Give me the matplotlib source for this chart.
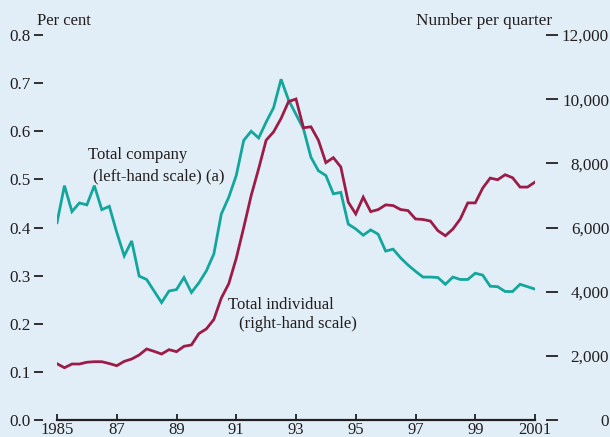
import numpy as np
import matplotlib
matplotlib.use("Agg")
import matplotlib.pyplot as plt

plt.rcParams['font.family'] = ['Liberation Serif', 'DejaVu Serif']

# Quarterly data, 1985 Q1 to 2001 Q1
start_year = 1985
n_quarters = 65
company = [0.41, 0.487, 0.433, 0.451, 0.447, 0.487, 0.437, 0.444, 0.39, 0.341,
           0.372, 0.299, 0.292, 0.268, 0.244, 0.268, 0.271, 0.296, 0.265, 0.285,
           0.31, 0.345, 0.428, 0.463, 0.508, 0.581, 0.600, 0.586, 0.619, 0.649,
           0.708, 0.665, 0.635, 0.605, 0.546, 0.518, 0.508, 0.470, 0.473, 0.407,
           0.397, 0.384, 0.395, 0.386, 0.351, 0.355, 0.337, 0.322, 0.309, 0.297,
           0.297, 0.296, 0.282, 0.297, 0.292, 0.292, 0.305, 0.301, 0.278, 0.277,
           0.267, 0.267, 0.282, 0.277, 0.272]
individual = [1754, 1629, 1745, 1745, 1800, 1817, 1817, 1760, 1692, 1827,
              1901, 2026, 2214, 2140, 2057, 2193, 2130, 2297, 2339, 2694,
              2840, 3133, 3800, 4250, 5040, 6000, 6997, 7833, 8720, 8981,
              9399, 9923, 10005, 9108, 9139, 8720, 8021, 8177, 7886, 6789,
              6423, 6946, 6495, 6558, 6705, 6684, 6560, 6527, 6266, 6250,
              6200, 5900, 5743, 5950, 6266, 6767, 6767, 7228, 7541, 7488,
              7645, 7551, 7260, 7260, 7416]
x_ticks = [1985, 1987, 1989, 1991, 1993, 1995, 1997, 1999, 2001]
x_ticklabels = ['1985', '87', '89', '91', '93', '95', '97', '99', '2001']
left_ticks = [0.0, 0.1, 0.2, 0.3, 0.4, 0.5, 0.6, 0.7, 0.8]
left_ticklabels = ['0.0', '0.1', '0.2', '0.3', '0.4', '0.5', '0.6', '0.7', '0.8']
right_ticks = [0, 2000, 4000, 6000, 8000, 10000, 12000]
right_ticklabels = ['0', '2,000', '4,000', '6,000', '8,000', '10,000', '12,000']

years = start_year + np.arange(n_quarters) * 0.25

bg = '#e1eef7'
teal = '#12a69c'
maroon = '#9c1c47'
txt = '#231f20'
W, H = 610, 437

fig = plt.figure(figsize=(W / 100, H / 100), dpi=100, facecolor=bg)
ax = fig.add_axes([57 / W, (H - 420) / H, (535 - 57) / W, (420 - 35) / H])
ax.set_facecolor('none')
ax2 = ax.twinx()

ax.plot(years, company, color=teal, lw=2.0, solid_joinstyle='miter', zorder=3)
ax2.plot(years, individual, color=maroon, lw=2.0, solid_joinstyle='miter', zorder=3)

ax.set_xlim(1985, 2001)
ax.set_ylim(0, 0.8)
ax2.set_ylim(0, 12000)

for s in ['top', 'right']:
    ax.spines[s].set_visible(False)
ax.spines['left'].set_position(('outward', 10))
ax.spines['left'].set_visible(False)
ax.spines['bottom'].set_color(txt)
ax.spines['bottom'].set_linewidth(1.6)
for s in ['top', 'left', 'bottom']:
    ax2.spines[s].set_visible(False)
ax2.spines['right'].set_position(('outward', 8))
ax2.spines['right'].set_visible(False)

ax.set_xticks(x_ticks)
ax.set_xticklabels(x_ticklabels)
ax.tick_params(axis='x', direction='in', length=4.5, width=1.3, color=txt,
               labelsize=12, labelcolor=txt, pad=1.5)
ax.set_yticks(left_ticks)
ax.set_yticklabels(left_ticklabels)
ax.tick_params(axis='y', direction='out', length=6.6, width=1.3, color=txt,
               labelsize=12.3, labelcolor=txt, pad=2.5)
ax2.set_yticks(right_ticks)
ax2.set_yticklabels(right_ticklabels)
ax2.tick_params(axis='y', direction='out', length=8.4, width=1.3, color=txt,
                labelsize=12.3, labelcolor=txt, pad=37)
for lbl in ax2.get_yticklabels():
    lbl.set_horizontalalignment('right')

def px_to_data(px, py, lo, hi):
    xd = 1985 + (px - 57) / (535 - 57) * 16
    yd = lo + (420 - py) / (420 - 35) * (hi - lo)
    return xd, yd

for s, (px, py) in [('Total company', (88, 155)),
                    ('(left-hand scale) (a)', (93, 176)),
                    ('Total individual', (228, 305)),
                    ('(right-hand scale)', (239, 324))]:
    xd, yd = px_to_data(px, py, 0, 0.8)
    ax.text(xd, yd, s, ha='left', va='center', fontsize=12, color=txt)

fig.text(37 / W, (H - 21) / H, 'Per cent', ha='left', va='center', fontsize=12, color=txt)
fig.text(552 / W, (H - 21) / H, 'Number per quarter', ha='right', va='center', fontsize=12.4, color=txt)

fig.savefig('out.png', dpi=100, facecolor=bg)
